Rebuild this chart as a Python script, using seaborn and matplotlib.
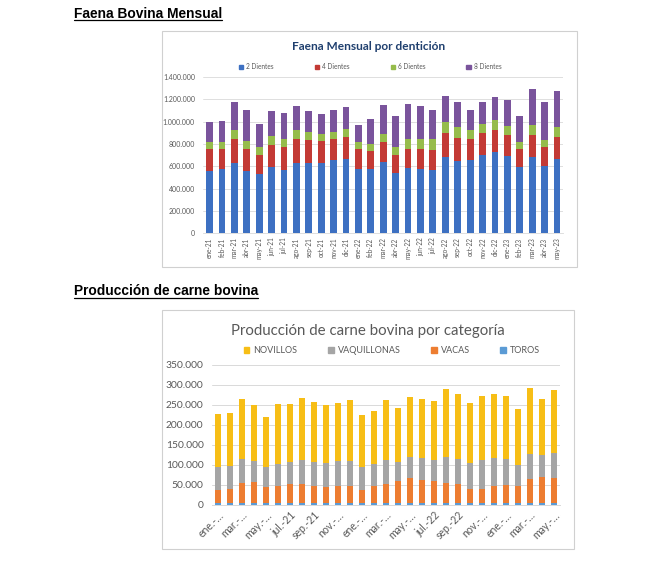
import pandas as pd
import matplotlib
matplotlib.use("Agg")
import matplotlib.pyplot as plt
from matplotlib.patches import Rectangle, Patch
from matplotlib.lines import Line2D
from matplotlib.ticker import FuncFormatter, MultipleLocator
import seaborn as sns

# Datos
meses = ["ene-21", "feb-21", "mar-21", "abr-21", "may-21", "jun-21", "jul-21", "ago-21",
         "sep-21", "oct-21", "nov-21", "dic-21", "ene-22", "feb-22", "mar-22", "abr-22",
         "may-22", "jun-22", "jul-22", "ago-22", "sep-22", "oct-22", "nov-22", "dic-22",
         "ene-23", "feb-23", "mar-23", "abr-23", "may-23"]

dientes_2 = [558000, 576000, 633000, 558000, 534000, 591000, 567000, 633000, 633000, 627000,
             657000, 666000, 573000, 576000, 642000, 543000, 582000, 576000, 567000, 687000,
             651000, 660000, 704000, 725000, 696000, 591000, 687000, 603000, 669000]
dientes_4 = [197000, 179000, 215000, 197000, 170000, 200000, 203000, 215000, 206000, 197000,
             191000, 197000, 182000, 164000, 173000, 161000, 173000, 179000, 179000, 212000,
             203000, 188000, 200000, 203000, 188000, 164000, 191000, 167000, 194000]
dientes_6 = [63000, 60000, 80000, 75000, 69000, 84000, 78000, 80000, 68000, 66000,
             62000, 71000, 60000, 63000, 78000, 71000, 90000, 93000, 99000, 95000,
             98000, 80000, 78000, 84000, 80000, 66000, 95000, 69000, 86000]
dientes_8 = [179000, 194000, 251000, 274000, 209000, 218000, 227000, 215000, 194000, 182000,
             194000, 197000, 158000, 221000, 256000, 273000, 316000, 295000, 262000, 233000,
             227000, 179000, 197000, 206000, 233000, 227000, 320000, 337000, 329000]

toros = [5000, 5000, 5000, 5000, 5000, 5000, 5000, 5000, 5000, 5000,
         5000, 5000, 5000, 5000, 5000, 5000, 5000, 5000, 5000, 5000,
         5000, 5000, 5000, 5000, 5000, 5000, 5000, 5000, 5000]
vacas = [33000, 35000, 49000, 52000, 39000, 42000, 47000, 47000, 42000, 39000,
         42000, 42000, 32000, 42000, 48000, 54000, 62000, 58000, 55000, 49000,
         48000, 36000, 36000, 42000, 45000, 42000, 59000, 64000, 63000]
vaquillonas = [58000, 58000, 61000, 53000, 52000, 55000, 55000, 60000, 60000, 62000,
               64000, 64000, 57000, 55000, 60000, 49000, 54000, 55000, 53000, 66000,
               63000, 65000, 71000, 71000, 66000, 54000, 63000, 56000, 63000]
novillos = [132000, 131000, 151000, 139000, 125000, 151000, 145000, 155000, 150000, 145000,
            144000, 151000, 131000, 133000, 150000, 135000, 148000, 148000, 148000, 170000,
            162000, 150000, 160000, 160000, 157000, 138000, 166000, 139000, 157000]

etiquetas_prod = ["ene.-…", "mar.-…", "may.-…", "jul.-21", "sep.-21", "nov.-…", "ene.-…",
                  "mar.-…", "may.-…", "jul.-22", "sep.-22", "nov.-…", "ene.-…", "mar.-…", "may.-…"]

W, H = 665, 579
GRIS = "#595959"
GRID = "#D9D9D9"

sns.set_theme(style="white")
plt.rcParams["font.family"] = ["Lato", "DejaVu Sans"]

fig = plt.figure(figsize=(W / 100, H / 100), dpi=100)
fig.patch.set_facecolor("white")


def fx(px):
    return px / W


def fy(py):
    return 1 - py / H


def miles(v, pos=None):
    return f"{int(round(v)):,}".replace(",", ".")


def apilar(ax, cols, nombres, colores, ancho):
    df = pd.DataFrame({"mes": meses})
    acum = 0
    for nombre, col in zip(nombres, cols):
        acum = acum + pd.Series(col)
        df[nombre] = acum.values
    # de la serie acumulada mas alta a la mas baja
    for nombre, color in reversed(list(zip(nombres, colores))):
        sns.barplot(data=df, x="mes", y=nombre, color=color, saturation=1,
                    width=ancho, errorbar=None, ax=ax, linewidth=0)


def marco(x0, y0, x1, y1):
    fig.add_artist(Rectangle((fx(x0), fy(y1)), fx(x1 - x0), (y1 - y0) / H,
                             transform=fig.transFigure, fill=False,
                             edgecolor="#D0D0D0", lw=0.8))


# Encabezados
encabezados = []
for texto, y in [("Faena Bovina Mensual", 13.5), ("Producción de carne bovina", 291)]:
    t = fig.text(fx(74), fy(y), texto, fontsize=9.9, fontweight="bold",
                 family=["Liberation Sans", "DejaVu Sans"], va="center", color="black")
    encabezados.append(t)

# ---- Grafico 1: Faena mensual ----
marco(162, 31, 577, 267)
ax1 = fig.add_axes([fx(203.3), fy(233.3), fx(359.9), 156.1 / H])
nombres1 = ["2 Dientes", "4 Dientes", "6 Dientes", "8 Dientes"]
colores1 = ["#3D70C2", "#C33A35", "#96BC4B", "#7A549C"]
apilar(ax1, [dientes_2, dientes_4, dientes_6, dientes_8], nombres1, colores1, 0.55)
ax1.set_ylim(0, 1400000)
ax1.yaxis.set_major_locator(MultipleLocator(200000))
ax1.yaxis.set_major_formatter(FuncFormatter(miles))
ax1.yaxis.grid(True, color=GRID, lw=0.6)
ax1.set_axisbelow(True)
ax1.set_xlabel("")
ax1.set_ylabel("")
ax1.set_xticks(range(len(meses)))
ax1.set_xticklabels(meses, rotation=90, fontsize=4.7, color=GRIS)
ax1.tick_params(axis="y", labelsize=5.0, labelcolor=GRIS, length=0, pad=6)
ax1.tick_params(axis="x", length=0, pad=3)
for s in ["top", "right", "left"]:
    ax1.spines[s].set_visible(False)
ax1.spines["bottom"].set_color(GRID)
ax1.spines["bottom"].set_linewidth(0.6)

fig.text(fx(368.5), fy(46.5), "Faena Mensual por dentición", fontsize=8.6,
         fontweight="bold", color="#1F3F6E", ha="center", va="center")
fig.legend(handles=[Patch(color=c, label=n) for n, c in zip(nombres1, colores1)],
           loc="center", bbox_to_anchor=(fx(370), fy(66.7)), ncol=4, frameon=False,
           fontsize=4.7, labelcolor=GRIS, handlelength=0.7, handleheight=0.7,
           handletextpad=0.4, columnspacing=6.3, borderpad=0)

# ---- Grafico 2: Produccion de carne ----
marco(162, 310, 574, 549)
ax2 = fig.add_axes([fx(212), fy(505), fx(348), 140 / H])
nombres2 = ["TOROS", "VACAS", "VAQUILLONAS", "NOVILLOS"]
colores2 = ["#5B9BD5", "#ED7D31", "#A5A5A5", "#F7BE16"]
apilar(ax2, [toros, vacas, vaquillonas, novillos], nombres2, colores2, 0.48)
ax2.set_ylim(0, 350000)
ax2.yaxis.set_major_locator(MultipleLocator(50000))
ax2.yaxis.set_major_formatter(FuncFormatter(miles))
ax2.yaxis.grid(True, color=GRID, lw=0.7)
ax2.set_axisbelow(True)
ax2.set_xlabel("")
ax2.set_ylabel("")
ax2.set_xticks(range(0, len(meses), 2))
ax2.set_xticklabels(etiquetas_prod, rotation=45, ha="right", rotation_mode="anchor",
                    fontsize=7.6, color=GRIS)
ax2.tick_params(axis="y", labelsize=7.4, labelcolor=GRIS, length=0, pad=6)
ax2.tick_params(axis="x", length=0, pad=3)
for s in ["top", "right", "left"]:
    ax2.spines[s].set_visible(False)
ax2.spines["bottom"].set_color(GRID)
ax2.spines["bottom"].set_linewidth(0.7)

fig.text(fx(367.7), fy(331.5), "Producción de carne bovina por categoría", fontsize=10.8,
         color=GRIS, ha="center", va="center")
orden_leyenda = ["NOVILLOS", "VAQUILLONAS", "VACAS", "TOROS"]
fig.legend(handles=[Patch(color=colores2[nombres2.index(n)], label=n) for n in orden_leyenda],
           loc="center", bbox_to_anchor=(fx(392), fy(350.7)), ncol=4, frameon=False,
           fontsize=6.5, labelcolor=GRIS, handlelength=0.6, handleheight=0.6,
           handletextpad=0.45, columnspacing=3.4, borderpad=0)

# Subrayado de encabezados
fig.canvas.draw()
for t in encabezados:
    bb = t.get_window_extent()
    y = (bb.y0 + 0.5) / H
    fig.add_artist(Line2D([bb.x0 / W, bb.x1 / W], [y, y], transform=fig.transFigure,
                          color="black", lw=0.9))

fig.savefig("out.png", dpi=100, facecolor="white")
